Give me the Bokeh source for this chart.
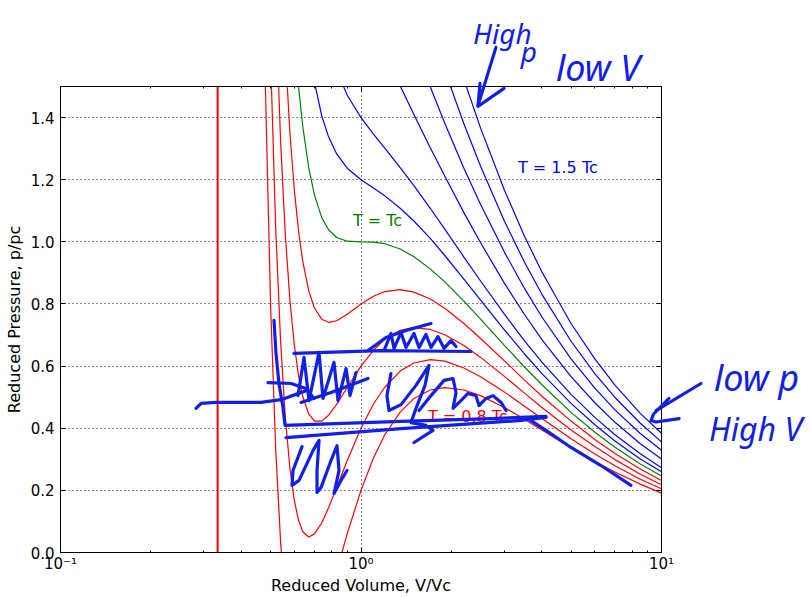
from bokeh.plotting import figure
from bokeh.models import (Range1d, FixedTicker, LogAxis, LinearAxis, Label,
                          Span, NumeralTickFormatter, GridBox)
from bokeh.embed import file_html
from bokeh.resources import INLINE

# ---------------- data ----------------
volume = [0.46, 0.48, 0.5, 0.52, 0.54, 0.56, 0.58, 0.6, 0.62, 0.64, 0.67, 0.7, 0.74,
          0.78, 0.83, 0.9, 1.0, 1.1, 1.2, 1.35, 1.5, 1.7, 1.9, 2.2, 2.5, 3.0, 3.5,
          4.0, 5.0, 6.0, 7.0, 8.5, 10.0]

temperatures = [0.8, 0.85, 0.9, 0.95, 1.0, 1.05, 1.1, 1.2, 1.3, 1.4, 1.5]

p_t080 = [2.664, 1.525, 0.800, 0.334, 0.035, -0.154, -0.269, -0.333, -0.362, -0.367,
          -0.346, -0.304, -0.233, -0.155, -0.060, 0.061, 0.200, 0.304, 0.379, 0.452,
          0.496, 0.523, 0.531, 0.523, 0.505, 0.467, 0.429, 0.394, 0.337, 0.293,
          0.259, 0.220, 0.191]
p_t085 = [3.717, 2.434, 1.600, 1.048, 0.680, 0.434, 0.271, 0.167, 0.103, 0.067,
          0.050, 0.060, 0.095, 0.144, 0.209, 0.296, 0.400, 0.478, 0.532, 0.584,
          0.610, 0.621, 0.616, 0.594, 0.566, 0.517, 0.471, 0.431, 0.366, 0.317,
          0.279, 0.236, 0.205]
p_t090 = [4.769, 3.343, 2.400, 1.762, 1.325, 1.022, 0.812, 0.667, 0.568, 0.502,
          0.446, 0.423, 0.423, 0.442, 0.477, 0.531, 0.600, 0.651, 0.686, 0.715,
          0.724, 0.718, 0.701, 0.666, 0.628, 0.567, 0.513, 0.467, 0.394, 0.341,
          0.299, 0.252, 0.218]
p_t095 = [5.822, 4.252, 3.200, 2.476, 1.970, 1.610, 1.352, 1.167, 1.033, 0.937,
          0.842, 0.787, 0.751, 0.741, 0.746, 0.767, 0.800, 0.825, 0.840, 0.846,
          0.838, 0.816, 0.786, 0.737, 0.689, 0.617, 0.555, 0.503, 0.423, 0.364,
          0.319, 0.269, 0.232]
p_t100 = [6.875, 5.161, 4.000, 3.191, 2.615, 2.199, 1.893, 1.667, 1.498, 1.372,
          1.238, 1.151, 1.078, 1.039, 1.014, 1.002, 1.000, 0.999, 0.994, 0.977,
          0.952, 0.913, 0.871, 0.809, 0.751, 0.667, 0.597, 0.540, 0.451, 0.387,
          0.339, 0.285, 0.246]
p_t105 = [7.927, 6.070, 4.800, 3.905, 3.260, 2.787, 2.433, 2.167, 1.963, 1.806,
          1.634, 1.514, 1.406, 1.338, 1.283, 1.237, 1.200, 1.173, 1.148, 1.108,
          1.067, 1.011, 0.956, 0.880, 0.812, 0.717, 0.639, 0.576, 0.480, 0.411,
          0.359, 0.301, 0.260]
p_t110 = [8.980, 6.979, 5.600, 4.619, 3.906, 3.375, 2.974, 2.667, 2.429, 2.241,
          2.030, 1.878, 1.734, 1.636, 1.551, 1.472, 1.400, 1.347, 1.302, 1.239,
          1.181, 1.108, 1.041, 0.951, 0.874, 0.767, 0.681, 0.613, 0.509, 0.435,
          0.379, 0.318, 0.273]
p_t120 = [11.085, 8.797, 7.200, 6.048, 5.196, 4.552, 4.055, 3.667, 3.359, 3.111,
          2.822, 2.605, 2.390, 2.233, 2.088, 1.943, 1.800, 1.695, 1.609, 1.502,
          1.410, 1.303, 1.212, 1.094, 0.997, 0.867, 0.766, 0.685, 0.566, 0.482,
          0.419, 0.350, 0.301]
p_t130 = [13.190, 10.615, 8.800, 7.476, 6.486, 5.728, 5.136, 4.667, 4.289, 3.980,
          3.614, 3.333, 3.046, 2.830, 2.625, 2.414, 2.200, 2.043, 1.917, 1.764,
          1.638, 1.499, 1.382, 1.237, 1.120, 0.967, 0.850, 0.758, 0.623, 0.529,
          0.459, 0.383, 0.329]
p_t140 = [15.296, 12.434, 10.400, 8.905, 7.777, 6.905, 6.217, 5.667, 5.219, 4.850,
          4.406, 4.060, 3.701, 3.427, 3.162, 2.884, 2.600, 2.391, 2.225, 2.026,
          1.867, 1.694, 1.552, 1.380, 1.243, 1.067, 0.934, 0.831, 0.680, 0.576,
          0.499, 0.416, 0.356]
p_t150 = [17.401, 14.252, 12.000, 10.334, 9.067, 8.081, 7.298, 6.667, 6.149, 5.719,
          5.198, 4.787, 4.357, 4.024, 3.699, 3.355, 3.000, 2.738, 2.532, 2.288,
          2.096, 1.889, 1.722, 1.523, 1.366, 1.167, 1.018, 0.903, 0.737, 0.623,
          0.539, 0.448, 0.384]

isotherms = [p_t080, p_t085, p_t090, p_t095, p_t100, p_t105, p_t110, p_t120,
             p_t130, p_t140, p_t150]

excluded_volume = 0.3333

x_major_ticks = [0.1, 1.0, 10.0]
x_tick_labels = ["10\u207b\u00b9", "10\u2070", "10\u00b9"]
x_minor_ticks = [0.2, 0.3, 0.4, 0.5, 0.6, 0.7, 0.8, 0.9,
                 2.0, 3.0, 4.0, 5.0, 6.0, 7.0, 8.0, 9.0]
y_ticks = [0.0, 0.2, 0.4, 0.6, 0.8, 1.0, 1.2, 1.4]

curve_labels = ["T = 0.8 Tc", "T = Tc", "T = 1.5 Tc"]
curve_label_x = [1.67, 0.94, 3.33]
curve_label_y = [0.437, 1.07, 1.24]
curve_label_temp = [0.8, 1.0, 1.5]

# hand-drawn ink strokes, in V and p/pc
ink_x = [
    [0.5134, 0.5213, 0.5334, 0.5500, 0.5586, 1.359, 2.707, 4.127],
    [0.5629, 1.359, 3.408, 4.127],
    [0.5984, 1.166, 2.323],
    [1.055, 1.211, 1.412, 1.710],
    [1.193, 1.258, 1.288, 1.359, 1.412, 1.501, 1.560, 1.645, 1.710, 1.804, 1.889, 1.993, 2.071],
    [0.6171, 0.6462, 0.6714, 0.7249, 0.7473, 0.8131, 0.8385, 0.8916, 0.9192, 0.9625],
    [0.4903, 0.5849, 0.6561, 0.6976],
    [0.6315, 0.7946, 1.055],
    [0.2825, 0.2937, 0.3292, 0.4648, 0.5417, 0.6077, 0.6561],
    [0.6364, 0.5939, 0.5894, 0.6219, 0.6923, 0.7249, 0.7139, 0.7139, 0.7360, 0.7946,
     0.8320, 0.8449, 0.8131, 0.8578, 0.8984],
    [1.258, 1.220, 1.239, 1.359, 1.524, 1.684, 1.633, 1.524, 1.467, 1.645, 1.736, 1.501],
    [1.560, 1.710, 1.889, 2.024, 2.071, 2.024, 2.151, 2.270, 2.413, 2.470, 2.606,
     2.750, 2.924, 3.038],
    [3.541, 4.127, 4.998, 6.291, 7.916],
    [2.813, 2.451],
    [2.489, 2.451, 2.991],
    [13.53, 9.587],
    [10.59, 9.40, 9.229, 9.60, 11.44],
]
ink_y = [
    [0.747, 0.641, 0.544, 0.467, 0.409, 0.422, 0.431, 0.438],
    [0.370, 0.399, 0.425, 0.435],
    [0.641, 0.650, 0.647],
    [0.650, 0.692, 0.715, 0.737],
    [0.650, 0.705, 0.657, 0.708, 0.660, 0.705, 0.660, 0.702, 0.660, 0.695, 0.657, 0.682, 0.663],
    [0.505, 0.628, 0.489, 0.644, 0.496, 0.612, 0.489, 0.592, 0.505, 0.579],
    [0.547, 0.544, 0.528, 0.496],
    [0.483, 0.515, 0.560],
    [0.464, 0.480, 0.483, 0.483, 0.492, 0.509, 0.521],
    [0.341, 0.264, 0.216, 0.232, 0.328, 0.361, 0.264, 0.193, 0.209, 0.296,
     0.344, 0.264, 0.190, 0.232, 0.264],
    [0.576, 0.505, 0.457, 0.476, 0.538, 0.602, 0.538, 0.464, 0.418, 0.409, 0.393, 0.354],
    [0.457, 0.505, 0.554, 0.560, 0.515, 0.464, 0.489, 0.512, 0.505, 0.473, 0.496,
     0.505, 0.483, 0.457],
    [0.435, 0.393, 0.338, 0.280, 0.216],
    [1.626, 1.439],
    [1.510, 1.436, 1.494],
    [0.544, 0.457],
    [0.496, 0.445, 0.425, 0.420, 0.431],
]

note_texts = ["High", "p", "low V", "low p", "High V"]
note_x = [2.359, 3.40, 4.457, 14.95, 14.39]
note_y = [1.672, 1.615, 1.560, 0.562, 0.399]
note_sizes = ["28px", "28px", "36px", "36px", "32px"]

# ---------------- figure ----------------
FONT = "DejaVu Sans"
INK = "#1020e6"
W, H = 811, 597
BL, BR, BT, BB = 60, 150, 86, 45
X0, X1, Y0, Y1 = 0.1, 10.0, 0.0, 1.5

def temp_color(t):
    if t < 1.0:
        return "#ff0000"
    if t == 1.0:
        return "#008000"
    return "#0000ff"

p = figure(width=W, height=H, x_axis_type="log",
           x_range=Range1d(X0, X1), y_range=Range1d(Y0, Y1),
           output_backend="svg", toolbar_location=None,
           min_border_left=BL, min_border_right=BR,
           min_border_top=BT, min_border_bottom=BB,
           background_fill_color="white", border_fill_color="white")
p.frame_align = False

p.outline_line_color = "black"
p.outline_line_width = 1

xticker = FixedTicker(ticks=x_major_ticks, minor_ticks=x_minor_ticks)
yticker = FixedTicker(ticks=y_ticks)

p.xaxis.ticker = xticker
p.xaxis.major_label_overrides = dict(zip(x_major_ticks, x_tick_labels))
p.yaxis.ticker = yticker
p.yaxis.formatter = NumeralTickFormatter(format="0.0")

p.xaxis.axis_label = "Reduced Volume, V/Vc"
p.yaxis.axis_label = "Reduced Pressure, p/pc"

for ax in p.axis:
    ax.axis_label_text_font = FONT
    ax.axis_label_text_font_size = "16px"
    ax.axis_label_text_font_style = "normal"
    ax.axis_label_text_color = "black"
    ax.major_label_text_font = FONT
    ax.major_label_text_font_size = "15px"
    ax.major_label_text_color = "black"
    ax.axis_line_color = "black"
    ax.major_tick_line_color = "black"
    ax.minor_tick_line_color = "black"
    ax.major_tick_in = 5
    ax.major_tick_out = 0
    ax.minor_tick_in = 2
    ax.minor_tick_out = 0

p.yaxis.minor_tick_line_color = None
p.xaxis.major_label_standoff = 2
p.xaxis.axis_label_standoff = 0
p.yaxis.major_label_standoff = 6
p.yaxis.axis_label_standoff = 4

top_axis = LogAxis(ticker=xticker, major_label_text_alpha=0,
                   axis_line_color="black", major_tick_in=5, major_tick_out=0,
                   minor_tick_in=2, minor_tick_out=0,
                   major_tick_line_color="black", minor_tick_line_color="black")
p.add_layout(top_axis, "above")
right_axis = LinearAxis(ticker=yticker, major_label_text_alpha=0,
                        axis_line_color="black", major_tick_in=5, major_tick_out=0,
                        minor_tick_line_color=None, major_tick_line_color="black")
p.add_layout(right_axis, "right")

p.xgrid.ticker = FixedTicker(ticks=x_major_ticks)
p.ygrid.ticker = yticker
for g in (p.xgrid, p.ygrid):
    g.grid_line_color = "black"
    g.grid_line_dash = "1 3"
    g.grid_line_width = 1
    g.grid_line_alpha = 0.9

# excluded-volume line
p.add_layout(Span(location=excluded_volume, dimension="height",
                  line_color="#ff0000", line_width=2))

# isotherms
for t, ys in zip(temperatures, isotherms):
    p.line(volume, ys, line_color=temp_color(t), line_width=1.2)

for txt, lx, ly, lt in zip(curve_labels, curve_label_x, curve_label_y, curve_label_temp):
    p.add_layout(Label(x=lx, y=ly, text=txt, text_color=temp_color(lt),
                       text_font=FONT, text_font_size="16px",
                       text_baseline="alphabetic", text_align="left"))

# ---------------- transparent overlay for the hand-written ink ----------------
# same data coordinates, extended to the whole canvas so ink may leave the axes
dec_per_px = 2.0 / (W - BL - BR)
val_per_px = (Y1 - Y0) / (H - BT - BB)
ov = figure(width=W, height=H, x_axis_type="log",
            x_range=Range1d(X0 * 10 ** (-BL * dec_per_px), X1 * 10 ** (BR * dec_per_px)),
            y_range=Range1d(Y0 - BB * val_per_px, Y1 + BT * val_per_px),
            output_backend="svg", toolbar_location=None,
            x_axis_location=None, y_axis_location=None, min_border=0)
ov.frame_align = False
ov.grid.visible = False
ov.outline_line_color = None
ov.background_fill_alpha = 0
ov.border_fill_alpha = 0

ov.multi_line(xs=ink_x, ys=ink_y, line_color=INK, line_width=3.2,
              line_cap="round", line_join="round")

for txt, nx, ny, ns in zip(note_texts, note_x, note_y, note_sizes):
    ov.add_layout(Label(x=nx, y=ny, text=txt, text_color=INK, text_font="Noto Sans",
                        text_font_size=ns, text_font_style="italic",
                        text_baseline="alphabetic"))

layout = GridBox(children=[(p, 0, 0), (ov, 0, 0)])

open("out.html", "w").write(file_html(layout, INLINE))
